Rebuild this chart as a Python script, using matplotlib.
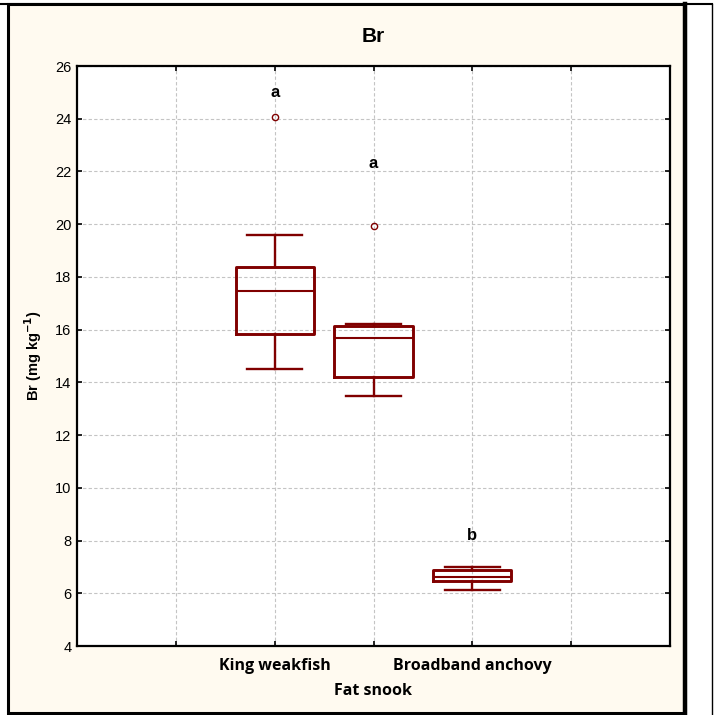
import matplotlib
matplotlib.use('Agg')
import matplotlib.pyplot as plt
from matplotlib.patches import Rectangle
from matplotlib.lines import Line2D
from matplotlib.transforms import blended_transform_factory

# Br concentration per species (box plot summary)
species = ['King weakfish', 'Fat snook', 'Broadband anchovy']
positions = [2, 3, 4]
whisker_low = [14.5, 13.5, 6.12]
q1 = [15.82, 14.22, 6.46]
median = [17.45, 15.7, 6.62]
q3 = [18.37, 16.15, 6.88]
whisker_high = [19.58, 16.2, 6.99]
outliers = [[24.05], [19.95], []]
letters = ['a', 'a', 'b']
letter_y = [24.98, 22.3, 8.2]

y_ticks = list(range(4, 27, 2))

RED = '#800000'
CREAM = '#fffaf0'


def main() -> None:
    fig = plt.figure(figsize=(7.19, 7.15), dpi=100, facecolor='white')

    # panel background and frames
    fig.patches.append(Rectangle((8 / 719, 2 / 715), 677 / 719, 709 / 715,
                                 transform=fig.transFigure, facecolor=CREAM,
                                 edgecolor='black', linewidth=2.2, zorder=-2))
    fig.lines.append(Line2D([685 / 719, 685 / 719], [2 / 715, 711 / 715],
                            transform=fig.transFigure, color='black', linewidth=3.2, zorder=-1))
    fig.lines.append(Line2D([0, 712 / 719], [711 / 715, 711 / 715],
                            transform=fig.transFigure, color='black', linewidth=1.5, zorder=-1))
    fig.lines.append(Line2D([712 / 719, 712 / 719], [0, 711 / 715],
                            transform=fig.transFigure, color='black', linewidth=1.0, zorder=-1))

    ax = fig.add_axes([77 / 719, 69 / 715, 593 / 719, 580 / 715])
    ax.set_facecolor('white')

    stats = []
    for i in range(len(species)):
        stats.append({'whislo': whisker_low[i], 'q1': q1[i], 'med': median[i],
                      'q3': q3[i], 'whishi': whisker_high[i], 'fliers': outliers[i]})

    ax.bxp(stats, positions=positions, widths=0.79, showfliers=True,
           boxprops=dict(color=RED, linewidth=2.1),
           whiskerprops=dict(color=RED, linewidth=1.7),
           capprops=dict(color=RED, linewidth=1.7),
           medianprops=dict(color=RED, linewidth=1.5),
           flierprops=dict(marker='o', markerfacecolor='none', markeredgecolor=RED,
                           markersize=4.5, markeredgewidth=1.0),
           capwidths=0.56, manage_ticks=False, zorder=3)

    for x, y, t in zip(positions, letter_y, letters):
        ax.text(x, y, t, ha='center', va='center', fontsize=12, fontweight='bold',
                family='Liberation Sans', zorder=4)

    ax.tick_params(direction='in', length=3.5, width=1.2, top=True, right=True)
    ax.tick_params(axis='x', pad=9)
    ax.tick_params(axis='y', pad=4)

    ax.set_xlim(0, 6)
    ax.set_ylim(4, 26)
    ax.set_yticks(y_ticks)
    ax.set_yticklabels([str(v) for v in y_ticks], family='Liberation Sans', fontsize=10.5)
    ax.set_xticks([1, 2, 3, 4, 5])
    ax.set_xticklabels(['', species[0], '', species[2], ''],
                       family='Open Sans', fontweight='bold', fontsize=11.5)
    trans = blended_transform_factory(ax.transData, ax.transAxes)
    ax.text(3, -0.078, species[1], transform=trans, ha='center', va='center',
            family='Open Sans', fontweight='bold', fontsize=11.5)

    ax.grid(True, linestyle=(0, (3, 2)), color='#c4c4c4', linewidth=0.8, zorder=0)
    ax.set_axisbelow(True)
    for s in ax.spines.values():
        s.set_linewidth(1.6)

    ax.set_ylabel('Br (mg kg$^{\\mathbf{-1}}$)', family='Liberation Sans',
                  fontweight='bold', fontsize=10.5, labelpad=8)
    fig.text(373 / 719, 1 - 37 / 715, 'Br', ha='center', va='center',
             family='Liberation Sans', fontweight='bold', fontsize=15)

    fig.savefig('out.png', dpi=100, facecolor=fig.get_facecolor())


if __name__ == '__main__':
    main()
